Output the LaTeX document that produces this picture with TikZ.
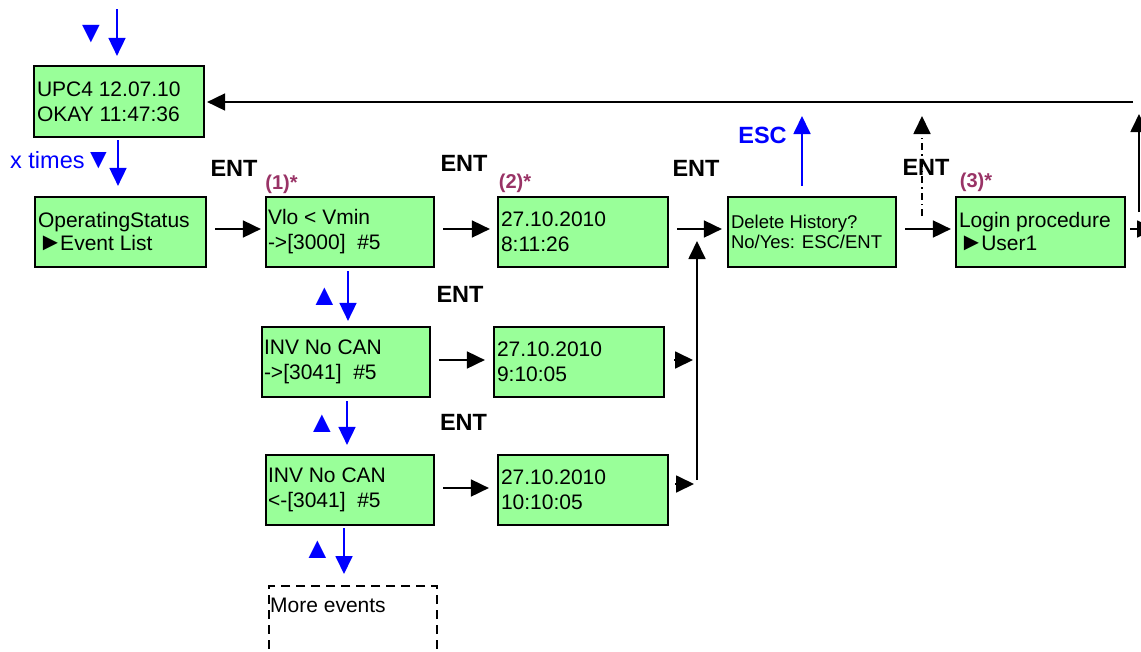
\documentclass[tikz,border=0pt]{standalone}
\usepackage{fontspec}
\setmainfont{Liberation Sans}
\usetikzlibrary{arrows.meta,calc}
\definecolor{lcdgreen}{HTML}{99FF99}
\definecolor{notepurple}{HTML}{993366}
\definecolor{keyblue}{HTML}{0000FF}
\newcommand{\bigptr}{\kern-2pt{\fontsize{25}{25}\selectfont►}\kern-2.5pt}
\tikzset{
  lcd/.style={draw=black, line width=2.2pt, fill=lcdgreen, minimum height=70pt,
    inner xsep=3pt, inner ysep=0pt, align=flush left,
    font=\fontsize{21}{25}\selectfont},
  arr/.style={line width=1.8pt, -{Triangle[length=18pt,width=17pt]}},
  barr/.style={arr, draw=keyblue, fill=keyblue},
  entlbl/.style={font=\fontsize{23.5}{25}\selectfont\bfseries},
  notelbl/.style={font=\fontsize{20}{22}\selectfont\bfseries, text=notepurple},
  tri/.style={text=keyblue, font=\fontsize{30}{30}\selectfont, inner sep=0pt}
}
\begin{document}
\begin{tikzpicture}[x=1pt,y=-1pt]
\useasboundingbox (0,0) rectangle (1141,651);

% boxes
\node[lcd, minimum width=170pt, minimum height=71pt, text width=164pt] (upc) at (119,101.5) {UPC4 12.07.10\\OKAY 11:47:36};
\node[lcd, minimum width=171pt, text width=165pt] (ops) at (120.5,232) {OperatingStatus\\\bigptr Event List};
\node[lcd, minimum width=168pt, text width=164pt, inner xsep=1pt] (ev1) at (350,232) {Vlo < Vmin\\->[3000]\ \ \#5};
\node[lcd, minimum width=170pt, text width=164pt] (dt1) at (583,232) {27.10.2010\\8:11:26};
\node[lcd, minimum width=168pt, text width=162pt, font=\fontsize{18.5}{20.5}\selectfont] (del) at (812,232) {Delete History?\\No/Yes: ESC/ENT};
\node[lcd, minimum width=169pt, text width=163pt] (login) at (1040.5,232) {Login procedure\\\bigptr User1};
\node[lcd, minimum width=168pt, text width=164pt, inner xsep=1pt] (ev2) at (346,362) {INV No CAN\\->[3041]\ \ \#5};
\node[lcd, minimum width=170pt, text width=164pt] (dt2) at (579,362) {27.10.2010\\9:10:05};
\node[lcd, minimum width=168pt, text width=164pt, inner xsep=1pt] (ev3) at (350,490) {INV No CAN\\<-[3041]\ \ \#5};
\node[lcd, minimum width=170pt, text width=164pt] (dt3) at (583,490) {27.10.2010\\10:10:05};
\node[draw=black, line width=2pt, dash pattern=on 9pt off 6pt, anchor=north west,
  minimum width=168pt, minimum height=90pt,
  label={[anchor=north west, inner sep=0pt, font=\fontsize{21}{25}\selectfont, xshift=2pt, yshift=-13pt]north west:More events}] (more) at (268,585) {};

% labels
\node[entlbl] (e1) at (234,168) {ENT};
\node[entlbl] (e2) at (464,163.5) {ENT};
\node[entlbl] (e3) at (696,168) {ENT};
\node[entlbl] (e4) at (926,167) {ENT};
\node[entlbl] (e5) at (460,294) {ENT};
\node[entlbl] (e6) at (463.5,422) {ENT};
\node[notelbl] (n1) at (281.5,184) {(1)*};
\node[notelbl] (n2) at (515,183) {(2)*};
\node[notelbl] (n3) at (976,182) {(3)*};
\node[entlbl, text=keyblue] (esc) at (762.5,135) {ESC};
\node[text=keyblue, font=\fontsize{23.5}{25}\selectfont, anchor=west, inner sep=0pt] (xt) at (10,160) {x times\fontsize{28}{28}\selectfont▼};
\node[tri] (t0) at (91,34) {▼};
\node[tri] (t1) at (324.5,297) {▲};
\node[tri] (t2) at (322,424) {▲};
\node[tri] (t3) at (317.5,550) {▲};

% coordinates
\coordinate (topin) at (117,9);
\coordinate (mb) at (697,480);
\coordinate (mt) at (697,241);
\coordinate (escT) at (802,116);
\coordinate (dashT) at (922,116);
\coordinate (rvB) at (1139,212);
\coordinate (rvT) at (1139,114);
\coordinate (hR) at (1133,102);
\coordinate (outR) at (1155,229);

% blue arrows
\draw[barr, shorten >=9pt] (topin) -- (topin |- upc.north);
\draw[barr, shorten <=2pt, shorten >=10pt] (upc.south -| 118,0) -- (ops.north -| 118,0);
\draw[barr, shorten <=3pt, shorten >=5pt] (ev1.south -| 348,0) -- (ev2.north -| 348,0);
\draw[barr, shorten <=3pt, shorten >=9pt] (ev2.south -| 347,0) -- (ev3.north -| 347,0);
\draw[barr, shorten <=2pt, shorten >=11pt] (ev3.south -| 344,0) -- (more.north -| 344,0);
\draw[barr, shorten <=10pt] (del.north -| escT) -- (escT);

% black arrows
\draw[arr, shorten <=8pt, shorten >=4pt] (ops.east |- 0,229) -- (ev1.west |- 0,229);
\draw[arr, shorten <=8pt, shorten >=7pt] (ev1.east |- 0,229) -- (dt1.west |- 0,229);
\draw[arr, shorten <=8pt, shorten >=5pt] (dt1.east |- 0,229) -- (del.west |- 0,229);
\draw[arr, shorten <=8pt, shorten >=4pt] (del.east |- 0,229) -- (login.west |- 0,229);
\draw[arr, shorten <=4pt] (login.east |- 0,229) -- (outR);
\draw[arr, shorten <=8pt, shorten >=8pt] (ev2.east |- 0,360) -- (dt2.west |- 0,360);
\draw[arr, shorten <=8pt, shorten >=8pt] (ev3.east |- 0,488) -- (dt3.west |- 0,488);
\draw[arr, shorten <=9pt, shorten >=4pt] (dt2.east |- 0,360) -- (mb |- 0,360);
\draw[arr, shorten <=6pt, shorten >=3pt] (dt3.east |- 0,484) -- (mb |- 0,484);
\draw[arr] (mb) -- (mt);
\draw[arr, dash pattern=on 7pt off 4pt on 1.5pt off 4pt] (del.east -| dashT) ++(0,-16) -- (dashT);
\draw[arr] (rvB) -- (rvT);
\draw[arr, shorten >=2pt] (hR) -- (upc.east |- hR);
\end{tikzpicture}
\end{document}
